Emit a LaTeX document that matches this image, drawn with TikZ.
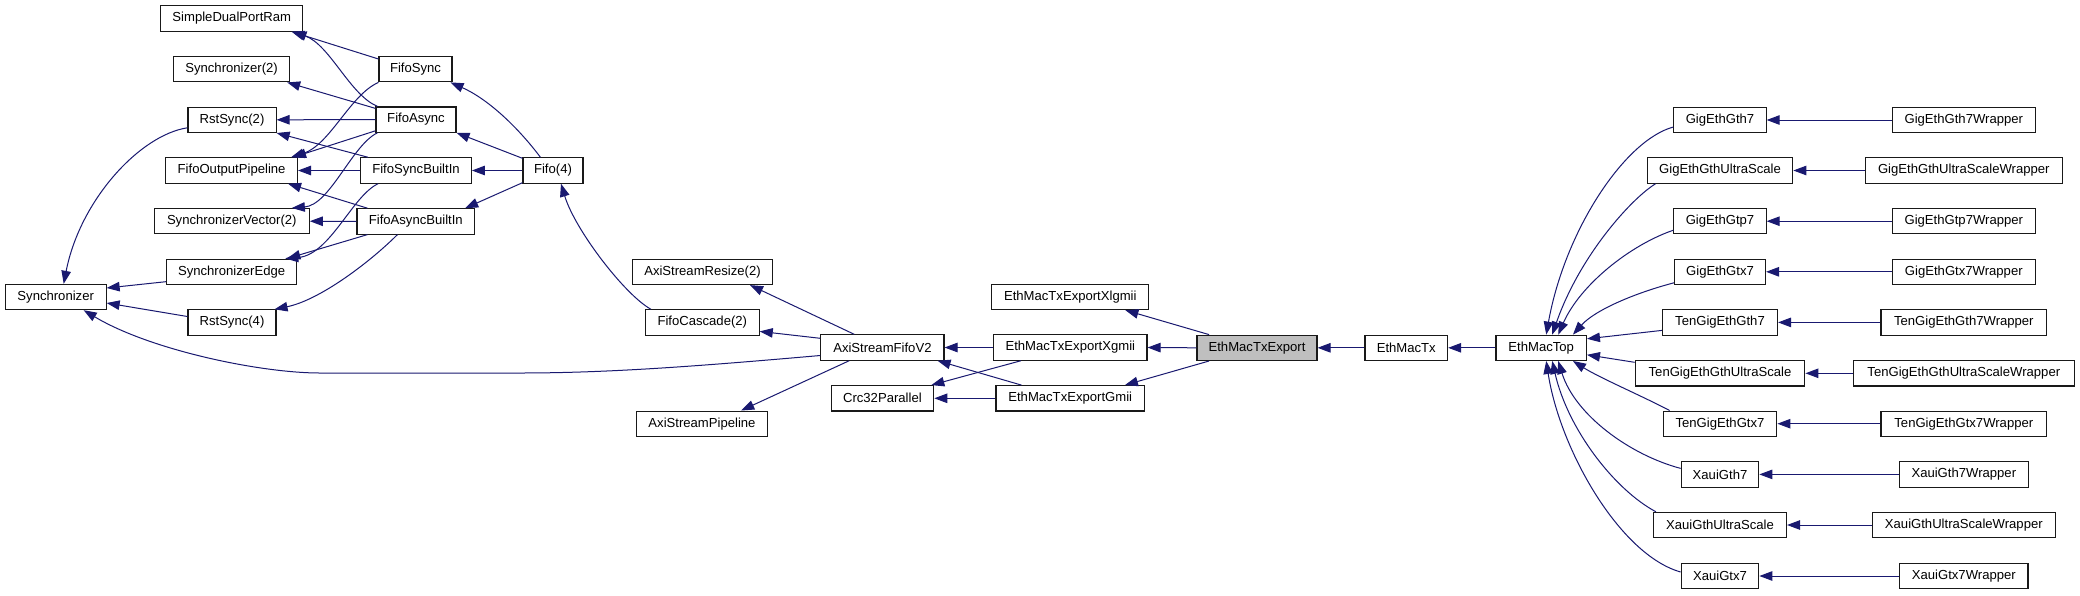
\documentclass[tikz,border=0pt]{standalone}
\usepackage{fontspec}
\setmainfont{Liberation Sans}
\usetikzlibrary{arrows.meta,calc}
\definecolor{edgeblue}{HTML}{191970}
\definecolor{mainfill}{HTML}{BFBFBF}
\begin{document}
\begin{tikzpicture}[x=1pt,y=-1pt,
  box/.style={draw=black!90, line width=1.1pt, fill=white, minimum height=25.3pt, inner sep=0pt, font=\fontsize{13.1}{15}\selectfont},
  edge/.style={draw=edgeblue, line width=1pt, -{Triangle[length=13pt,width=9.5pt]}}]
\useasboundingbox[fill=white] (0,0) rectangle (2080,595);
% left part
\node[box, minimum width=100.8pt] (syn) at (55.7,297) {Synchronizer};
\node[box, minimum width=142.2pt] (sdpr) at (231.8,18.4) {SimpleDualPortRam};
\node[box, minimum width=116pt] (syn2) at (231.6,69.2) {Synchronizer(2)};
\node[box, minimum width=88.1pt] (rs2) at (232,119.8) {RstSync(2)};
\node[box, minimum width=131.8pt] (fop) at (231.6,170.5) {FifoOutputPipeline};
\node[box, minimum width=155pt] (sv2) at (231.8,221.2) {SynchronizerVector(2)};
\node[box, minimum width=130.4pt] (se) at (231.6,271.7) {SynchronizerEdge};
\node[box, minimum width=88pt] (rs4) at (232,322.5) {RstSync(4)};
\node[box, minimum width=73pt] (fs) at (415.5,69.2) {FifoSync};
\node[box, minimum width=80pt] (fa) at (416,119.6) {FifoAsync};
\node[box, minimum width=110.7pt] (fsbi) at (416,170.5) {FifoSyncBuiltIn};
\node[box, minimum width=117.6pt] (fabi) at (415.8,221.4) {FifoAsyncBuiltIn};
\node[box, minimum width=60pt] (fifo) at (553,170.5) {Fifo(4)};
\node[box, minimum width=140pt] (asr) at (702.5,271.9) {AxiStreamResize(2)};
\node[box, minimum width=113.8pt] (fc) at (702.3,322.4) {FifoCascade(2)};
\node[box, minimum width=131.3pt] (asp) at (702,423.7) {AxiStreamPipeline};
\node[box, minimum width=123.2pt] (asf) at (882.4,347.5) {AxiStreamFifoV2};
\node[box, minimum width=102.7pt] (crc) at (882.4,398.3) {Crc32Parallel};
\node[box, minimum width=157.1pt] (xlg) at (1070.3,297) {EthMacTxExportXlgmii};
\node[box, minimum width=153.4pt] (xg) at (1070.3,347.5) {EthMacTxExportXgmii};
\node[box, minimum width=148.4pt] (gm) at (1070.2,398.3) {EthMacTxExportGmii};
\node[box, fill=mainfill, minimum width=120pt] (emte) at (1257,347.8) {EthMacTxExport};
\node[box, minimum width=82.6pt] (emt) at (1406.3,347.8) {EthMacTx};
\node[box, minimum width=90.4pt] (emtop) at (1541.2,347.8) {EthMacTop};
% right columns
\node[box, minimum width=92.2pt] (g7) at (1720,120) {GigEthGth7};
\node[box, minimum width=145.6pt] (gus) at (1720,170.5) {GigEthGthUltraScale};
\node[box, minimum width=92.2pt] (gp7) at (1720,221.2) {GigEthGtp7};
\node[box, minimum width=91pt] (gx7) at (1720,271.8) {GigEthGtx7};
\node[box, minimum width=115pt] (tg7) at (1720,322.4) {TenGigEthGth7};
\node[box, minimum width=169.7pt] (tgus) at (1720,373.3) {TenGigEthGthUltraScale};
\node[box, minimum width=113.7pt] (tgx7) at (1720,423.7) {TenGigEthGtx7};
\node[box, minimum width=77.6pt] (xg7) at (1720,474.4) {XauiGth7};
\node[box, minimum width=133pt] (xus) at (1720,525) {XauiGthUltraScale};
\node[box, minimum width=77.6pt] (xx7) at (1720,576) {XauiGtx7};
\node[box, minimum width=142.5pt] (wg7) at (1963.8,120) {GigEthGth7Wrapper};
\node[box, minimum width=197pt] (wgus) at (1963.8,170.5) {GigEthGthUltraScaleWrapper};
\node[box, minimum width=142.5pt] (wgp7) at (1963.8,221.2) {GigEthGtp7Wrapper};
\node[box, minimum width=142.5pt] (wgx7) at (1963.8,271.8) {GigEthGtx7Wrapper};
\node[box, minimum width=165.6pt] (wtg7) at (1963.8,322.4) {TenGigEthGth7Wrapper};
\node[box, minimum width=220.5pt] (wtgus) at (1963.8,373.3) {TenGigEthGthUltraScaleWrapper};
\node[box, minimum width=165.6pt] (wtgx7) at (1963.8,423.7) {TenGigEthGtx7Wrapper};
\node[box, minimum width=129.5pt] (wxg7) at (1963.8,474.4) {XauiGth7Wrapper};
\node[box, minimum width=183pt] (wxus) at (1963.8,525) {XauiGthUltraScaleWrapper};
\node[box, minimum width=128.4pt] (wxx7) at (1963.8,576) {XauiGtx7Wrapper};
% wrappers
\foreach \a/\b in {wg7/g7,wgus/gus,wgp7/gp7,wgx7/gx7,wtg7/tg7,wtgus/tgus,wtgx7/tgx7,wxg7/xg7,wxus/xus,wxx7/xx7}
  \draw[edge] (\a.west) -- (\b.east);
% into EthMacTop
\draw[edge] ($(g7.west)+(0,7)$) .. controls (1625,140) and (1565,230) .. ($(emtop.north)+(5,0)$);
\draw[edge] ($(gus.south west)+(9,0)$) .. controls (1632,198) and (1580,255) .. ($(emtop.north)+(11,0)$);
\draw[edge] ($(gp7.west)+(0,9)$) .. controls (1630,245) and (1580,285) .. ($(emtop.north)+(17,0)$);
\draw[edge] ($(gx7.west)+(0,11)$) .. controls (1635,293) and (1595,310) .. ($(emtop.north east)+(-14,0)$);
\draw[edge] ($(tg7.west)+(0,8)$) -- ($(emtop.east)+(0,-9)$);
\draw[edge] ($(tgus.west)+(0,-11)$) -- ($(emtop.east)+(0,7)$);
\draw[edge] ($(tgx7.north west)+(7,0)$) .. controls (1640,395) and (1600,378) .. ($(emtop.south east)+(-14,0)$);
\draw[edge] ($(xg7.west)+(0,-6)$) .. controls (1630,455) and (1575,415) .. ($(emtop.south)+(17,0)$);
\draw[edge] ($(xus.north west)+(3,0)$) .. controls (1615,490) and (1568,430) .. ($(emtop.south)+(11,0)$);
\draw[edge] ($(xx7.west)+(0,-4)$) .. controls (1620,555) and (1560,450) .. ($(emtop.south)+(5,0)$);
\draw[edge] (emtop.west) -- (emt.east);
\draw[edge] (emt.west) -- (emte.east);
% EthMacTxExport
\draw[edge] ($(emte.north west)+(12.6,0)$) -- ($(xlg.south east)+(-24,0)$);
\draw[edge] (emte.west) -- (xg.east);
\draw[edge] ($(emte.south west)+(12.6,0)$) -- ($(gm.north east)+(-20,0)$);
% Xgmii / Gmii
\draw[edge] (xg.west) -- (asf.east);
\draw[edge] ($(xg.south west)+(28,0)$) -- ($(crc.north east)+(-3,0)$);
\draw[edge] ($(gm.north west)+(26,0)$) -- ($(asf.south east)+(-7,0)$);
\draw[edge] (gm.west) -- (crc.east);
% AxiStreamFifoV2
\draw[edge] ($(asf.north west)+(34,0)$) -- ($(asr.south east)+(-23,0)$);
\draw[edge] ($(asf.north west)+(0,4)$) -- ($(fc.east)+(0,9)$);
\draw[edge] ($(asf.south west)+(29,0)$) -- ($(asp.north east)+(-27,0)$);
\draw[edge] ($(asf.west)+(0,8)$) .. controls (700,366) and (610,373) .. (520,373) -- (320,373) .. controls (260,373) and (150,350) .. ($(syn.south)+(28,0)$);
% FifoCascade
\draw[edge] ($(fc.north west)+(6,0)$) .. controls (625,295) and (575,230) .. ($(fifo.south)+(8,0)$);
% Fifo(4)
\draw[edge] ($(fifo.north west)+(18,0)$) .. controls (520,130) and (490,100) .. ($(fs.south east)+(-2,0)$);
\draw[edge] ($(fifo.north west)+(0,1)$) -- (fa.south east);
\draw[edge] (fifo.west) -- (fsbi.east);
\draw[edge] ($(fifo.south west)+(0,-1)$) -- ($(fabi.north east)+(-10,0)$);
% FifoSync
\draw[edge] ($(fs.north west)+(0,3)$) -- ($(sdpr.south east)+(-12,0)$);
\draw[edge] (fs.south west) .. controls (350,95) and (330,145) .. ($(fop.north east)+(-7,0)$);
% FifoAsync
\draw[edge] ($(fa.north west)+(2,0)$) .. controls (350,95) and (330,45) .. ($(sdpr.south east)+(-10,0)$);
\draw[edge] ($(fa.north west)+(0,2)$) -- ($(syn2.south east)+(-3,0)$);
\draw[edge] (fa.west) -- (rs2.east);
\draw[edge] ($(fa.south west)+(0,-2)$) -- ($(fop.north east)+(-5,0)$);
\draw[edge] ($(fa.south west)+(2,0)$) .. controls (352,145) and (330,205) .. ($(sv2.north east)+(-18,0)$);
% FifoSyncBuiltIn
\draw[edge] ($(fsbi.north west)+(8,0)$) -- (rs2.south east);
\draw[edge] (fsbi.west) -- (fop.east);
\draw[edge] ($(fsbi.south west)+(18,0)$) .. controls (352,196) and (330,255) .. ($(se.north east)+(-12,0)$);
% FifoAsyncBuiltIn
\draw[edge] ($(fabi.north west)+(11,0)$) -- ($(fop.south east)+(-10,0)$);
\draw[edge] (fabi.west) -- (sv2.east);
\draw[edge] ($(fabi.south west)+(11,0)$) -- ($(se.north east)+(-10,0)$);
\draw[edge] ($(fabi.south west)+(41,0)$) .. controls (370,262) and (320,300) .. ($(rs4.north east)+(-2,0)$);
% to Synchronizer
\draw[edge] ($(rs2.west)+(0,8)$) .. controls (140,135) and (80,200) .. ($(syn.north)+(8,0)$);
\draw[edge] ($(se.west)+(0,10)$) -- ($(syn.east)+(0,-9)$);
\draw[edge] ($(rs4.west)+(0,-6)$) -- ($(syn.east)+(0,6)$);
\end{tikzpicture}
\end{document}
